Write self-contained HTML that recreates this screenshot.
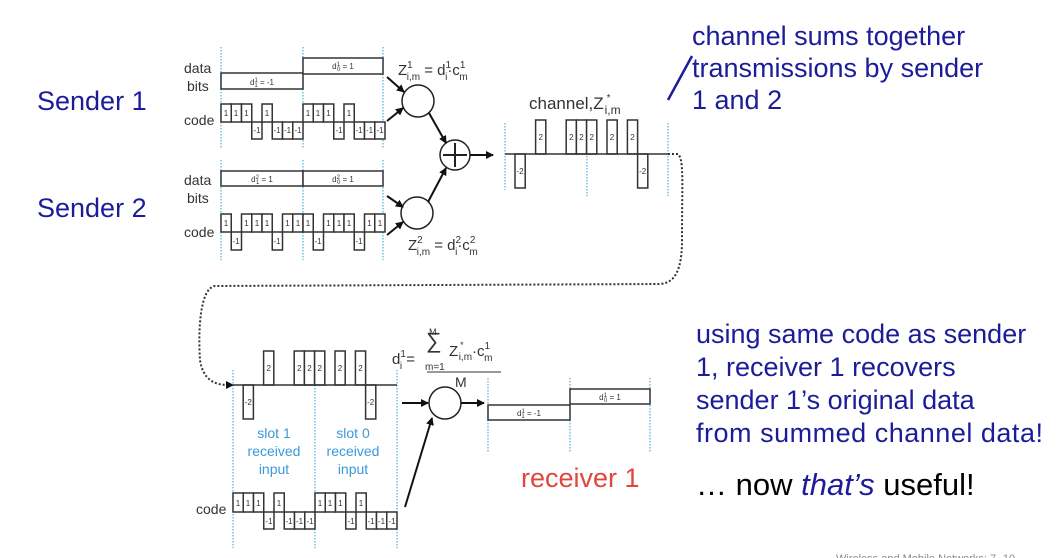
<!DOCTYPE html>
<html><head><meta charset="utf-8"><style>
html,body{margin:0;padding:0;background:#fff;}
svg{display:block;}
.l{font-family:"Liberation Sans",sans-serif;fill:#333;}
.c{font-family:"Liberation Sans",sans-serif;font-size:8px;fill:#333;text-anchor:middle;}
.b{font-family:"Liberation Sans",sans-serif;font-size:27px;fill:#1c1c9a;}
.k{font-family:"Liberation Sans",sans-serif;font-size:31px;fill:#000;}
.r rect{fill:#fff;stroke:#333;stroke-width:1.5;}
.d{stroke:#5ab4e6;stroke-width:1.3;stroke-dasharray:1.5 1.5;}
</style></head><body>
<svg width="1060" height="558" viewBox="0 0 1060 558" xmlns="http://www.w3.org/2000/svg">
<defs><marker id="a" markerWidth="8" markerHeight="8" refX="7" refY="4" orient="auto" markerUnits="userSpaceOnUse"><path d="M0,0 L8,4 L0,8 z" fill="#111"/></marker></defs>

<text class="b" x="37" y="110" font-size="26">Sender 1</text>
<text class="b" x="37" y="217" font-size="26">Sender 2</text>
<text class="b" x="692" y="45">channel sums together</text>
<text class="b" x="692" y="77">transmissions by sender</text>
<text class="b" x="692" y="109">1 and 2</text>
<line x1="668" y1="100" x2="692" y2="56" stroke="#1c1c9a" stroke-width="2.5"/>

<text class="b" x="696" y="343">using same code as sender</text>
<text class="b" x="696" y="376">1, receiver 1 recovers</text>
<text class="b" x="696" y="409">sender 1’s original data</text>
<text class="b" x="696" y="442" textLength="347">from summed channel data!</text>
<text class="k" x="696" y="495">… now <tspan font-style="italic" fill="#1c1c9a">that’s</tspan> useful!</text>
<text x="836" y="562" font-family="Liberation Sans" font-size="11" fill="#888">Wireless and Mobile Networks: 7- 10</text>

<g class="l" font-size="14">
<text x="184" y="73">data</text><text x="187" y="91">bits</text><text x="184" y="125">code</text>
<text x="184" y="185">data</text><text x="187" y="203">bits</text><text x="184" y="237">code</text>
<text x="196" y="514">code</text>
</g>

<g class="d">
<line x1="221" y1="47" x2="221" y2="148"/><line x1="303" y1="47" x2="303" y2="148"/><line x1="383" y1="47" x2="383" y2="148"/>
<line x1="221" y1="160" x2="221" y2="260"/><line x1="303" y1="160" x2="303" y2="260"/><line x1="383" y1="160" x2="383" y2="260"/>
<line x1="505" y1="123" x2="505" y2="190"/><line x1="587" y1="123" x2="587" y2="196"/><line x1="668" y1="123" x2="668" y2="196"/>
<line x1="233" y1="370" x2="233" y2="548"/><line x1="315" y1="370" x2="315" y2="548"/><line x1="397" y1="370" x2="397" y2="548"/>
<line x1="488" y1="378" x2="488" y2="452"/><line x1="570" y1="378" x2="570" y2="452"/><line x1="650" y1="378" x2="650" y2="452"/>
</g>

<g class="r">
<rect x="221" y="73" width="82" height="16"/><rect x="303" y="58" width="80" height="16"/>
<rect x="221" y="171" width="82" height="15"/><rect x="303" y="171" width="80" height="15"/>
<rect x="221" y="104" width="10.25" height="18"/><rect x="231.25" y="104" width="10.25" height="18"/><rect x="241.5" y="104" width="10.25" height="18"/><rect x="251.75" y="122" width="10.25" height="17"/><rect x="262" y="104" width="10.25" height="18"/><rect x="272.25" y="122" width="10.25" height="17"/><rect x="282.5" y="122" width="10.25" height="17"/><rect x="292.75" y="122" width="10.25" height="17"/>
<rect x="303" y="104" width="10.25" height="18"/><rect x="313.25" y="104" width="10.25" height="18"/><rect x="323.5" y="104" width="10.25" height="18"/><rect x="333.75" y="122" width="10.25" height="17"/><rect x="344" y="104" width="10.25" height="18"/><rect x="354.25" y="122" width="10.25" height="17"/><rect x="364.5" y="122" width="10.25" height="17"/><rect x="374.75" y="122" width="10.25" height="17"/>
<rect x="221" y="214" width="10.25" height="18"/><rect x="231.25" y="232" width="10.25" height="18"/><rect x="241.5" y="214" width="10.25" height="18"/><rect x="251.75" y="214" width="10.25" height="18"/><rect x="262" y="214" width="10.25" height="18"/><rect x="272.25" y="232" width="10.25" height="18"/><rect x="282.5" y="214" width="10.25" height="18"/><rect x="292.75" y="214" width="10.25" height="18"/>
<rect x="303" y="214" width="10.25" height="18"/><rect x="313.25" y="232" width="10.25" height="18"/><rect x="323.5" y="214" width="10.25" height="18"/><rect x="333.75" y="214" width="10.25" height="18"/><rect x="344" y="214" width="10.25" height="18"/><rect x="354.25" y="232" width="10.25" height="18"/><rect x="364.5" y="214" width="10.25" height="18"/><rect x="374.75" y="214" width="10.25" height="18"/>
<rect x="515" y="154" width="10.2" height="34"/><rect x="535.6" y="120" width="10.2" height="34"/><rect x="566.2" y="120" width="10.2" height="34"/><rect x="576.4" y="120" width="10.2" height="34"/><rect x="586.6" y="120" width="10.2" height="34"/><rect x="607" y="120" width="10.2" height="34"/><rect x="627.4" y="120" width="10.2" height="34"/><rect x="637.6" y="154" width="10.2" height="34"/>
<rect x="243.2" y="385" width="10.2" height="34"/><rect x="263.6" y="351" width="10.2" height="34"/><rect x="294.2" y="351" width="10.2" height="34"/><rect x="304.4" y="351" width="10.2" height="34"/><rect x="314.6" y="351" width="10.2" height="34"/><rect x="335" y="351" width="10.2" height="34"/><rect x="355.4" y="351" width="10.2" height="34"/><rect x="365.6" y="385" width="10.2" height="34"/>
<rect x="233" y="493" width="10.25" height="19"/><rect x="243.25" y="493" width="10.25" height="19"/><rect x="253.5" y="493" width="10.25" height="19"/><rect x="263.75" y="512" width="10.25" height="17"/><rect x="274" y="493" width="10.25" height="19"/><rect x="284.25" y="512" width="10.25" height="17"/><rect x="294.5" y="512" width="10.25" height="17"/><rect x="304.75" y="512" width="10.25" height="17"/>
<rect x="315" y="493" width="10.25" height="19"/><rect x="325.25" y="493" width="10.25" height="19"/><rect x="335.5" y="493" width="10.25" height="19"/><rect x="345.75" y="512" width="10.25" height="17"/><rect x="356" y="493" width="10.25" height="19"/><rect x="366.25" y="512" width="10.25" height="17"/><rect x="376.5" y="512" width="10.25" height="17"/><rect x="386.75" y="512" width="10.25" height="17"/>
<rect x="488" y="405" width="82" height="15"/><rect x="570" y="389" width="80" height="15"/>
</g>
<line x1="505" y1="154" x2="668" y2="154" stroke="#333" stroke-width="1.5"/>
<line x1="233" y1="385" x2="397" y2="385" stroke="#333" stroke-width="1.5"/>

<g class="c">
<text x="226" y="116">1</text><text x="236" y="116">1</text><text x="246.5" y="116">1</text><text x="257" y="133">-1</text><text x="267" y="116">1</text><text x="277" y="133">-1</text><text x="287.5" y="133">-1</text><text x="298" y="133">-1</text>
<text x="308" y="116">1</text><text x="318" y="116">1</text><text x="328.5" y="116">1</text><text x="339" y="133">-1</text><text x="349" y="116">1</text><text x="359" y="133">-1</text><text x="369.5" y="133">-1</text><text x="380" y="133">-1</text>
<text x="226" y="226">1</text><text x="236" y="244">-1</text><text x="246.5" y="226">1</text><text x="257" y="226">1</text><text x="267" y="226">1</text><text x="277" y="244">-1</text><text x="287.5" y="226">1</text><text x="298" y="226">1</text>
<text x="308" y="226">1</text><text x="318" y="244">-1</text><text x="328.5" y="226">1</text><text x="339" y="226">1</text><text x="349" y="226">1</text><text x="359" y="244">-1</text><text x="369.5" y="226">1</text><text x="380" y="226">1</text>
<text x="238" y="506">1</text><text x="248" y="506">1</text><text x="258.5" y="506">1</text><text x="269" y="524">-1</text><text x="279" y="506">1</text><text x="289" y="524">-1</text><text x="299.5" y="524">-1</text><text x="310" y="524">-1</text>
<text x="320" y="506">1</text><text x="330" y="506">1</text><text x="340.5" y="506">1</text><text x="351" y="524">-1</text><text x="361" y="506">1</text><text x="371" y="524">-1</text><text x="381.5" y="524">-1</text><text x="392" y="524">-1</text>
<text x="520" y="174">-2</text><text x="540.7" y="140">2</text><text x="571.3" y="140">2</text><text x="581.5" y="140">2</text><text x="591.7" y="140">2</text><text x="612" y="140">2</text><text x="632.5" y="140">2</text><text x="642.7" y="174">-2</text>
<text x="248.3" y="405">-2</text><text x="268.7" y="371">2</text><text x="299.3" y="371">2</text><text x="309.5" y="371">2</text><text x="319.7" y="371">2</text><text x="340" y="371">2</text><text x="360.5" y="371">2</text><text x="370.7" y="405">-2</text>
<text x="262" y="85">d<tspan font-size="6" dy="-3">1</tspan><tspan font-size="6" dy="5" dx="-3">1</tspan><tspan dy="-2"> = -1</tspan></text>
<text x="343" y="69">d<tspan font-size="6" dy="-3">1</tspan><tspan font-size="6" dy="5" dx="-3">0</tspan><tspan dy="-2"> = 1</tspan></text>
<text x="262" y="182">d<tspan font-size="6" dy="-3">2</tspan><tspan font-size="6" dy="5" dx="-3">1</tspan><tspan dy="-2"> = 1</tspan></text>
<text x="343" y="182">d<tspan font-size="6" dy="-3">2</tspan><tspan font-size="6" dy="5" dx="-3">0</tspan><tspan dy="-2"> = 1</tspan></text>
<text x="529" y="416">d<tspan font-size="6" dy="-3">1</tspan><tspan font-size="6" dy="5" dx="-3">1</tspan><tspan dy="-2"> = -1</tspan></text>
<text x="610" y="400">d<tspan font-size="6" dy="-3">1</tspan><tspan font-size="6" dy="5" dx="-3">0</tspan><tspan dy="-2"> = 1</tspan></text>
</g>

<g class="l" font-size="15">
<text x="398" y="75">Z<tspan font-size="10" dy="-7">1</tspan><tspan font-size="10" dy="12" dx="-6">i,m</tspan><tspan dy="-5"> = d</tspan><tspan font-size="10" dy="-7">1</tspan><tspan font-size="10" dy="12" dx="-6">i</tspan><tspan dy="-5">·c</tspan><tspan font-size="10" dy="-7">1</tspan><tspan font-size="10" dy="12" dx="-6">m</tspan></text>
<text x="408" y="250">Z<tspan font-size="10" dy="-7">2</tspan><tspan font-size="10" dy="12" dx="-6">i,m</tspan><tspan dy="-5"> = d</tspan><tspan font-size="10" dy="-7">2</tspan><tspan font-size="10" dy="12" dx="-6">i</tspan><tspan dy="-5">·c</tspan><tspan font-size="10" dy="-7">2</tspan><tspan font-size="10" dy="12" dx="-6">m</tspan></text>
<text x="529" y="109" font-size="17">channel,Z<tspan font-size="10" dy="-8" dx="3">*</tspan><tspan font-size="12" dy="13" dx="-6">i,m</tspan></text>
<text x="392" y="364">d<tspan font-size="10" dy="-7">1</tspan><tspan font-size="10" dy="12" dx="-6">i</tspan><tspan dy="-5"> =</tspan></text>
<text x="426" y="348" font-size="22">∑</text>
<text x="429" y="335" font-size="9">M</text>
<text x="425" y="370" font-size="10">m=1</text>
<text x="449" y="356">Z<tspan font-size="9" dy="-8" dx="2">*</tspan><tspan font-size="10" dy="12" dx="-5">i,m</tspan><tspan dy="-4">·c</tspan><tspan font-size="10" dy="-7">1</tspan><tspan font-size="10" dy="12" dx="-6">m</tspan></text>
<line x1="427" y1="372" x2="501" y2="372" stroke="#333" stroke-width="1"/>
<text x="455" y="387" font-size="14">M</text>
</g>
<g font-family="Liberation Sans" font-size="14" fill="#3a9ad9" text-anchor="middle">
<text x="274" y="438">slot 1</text><text x="274" y="456">received</text><text x="274" y="474">input</text>
<text x="353" y="438">slot 0</text><text x="353" y="456">received</text><text x="353" y="474">input</text>
</g>
<text x="521" y="487" font-family="Liberation Sans" font-size="27" fill="#e0473a">receiver 1</text>

<g fill="#fff" stroke="#222" stroke-width="1.5">
<circle cx="418" cy="101" r="16"/><circle cx="417" cy="213" r="16"/><circle cx="455" cy="155" r="15"/><circle cx="445" cy="403" r="16"/>
</g>
<path d="M443,155 H467 M455,143 V167" stroke="#222" stroke-width="2"/>
<g stroke="#111" stroke-width="2" marker-end="url(#a)" fill="none">
<line x1="387" y1="77" x2="404" y2="92"/><line x1="387" y1="121" x2="403" y2="108"/>
<line x1="387" y1="196" x2="403" y2="207"/><line x1="387" y1="235" x2="403" y2="222"/>
<line x1="429" y1="113" x2="446" y2="143"/><line x1="428" y1="202" x2="446" y2="168"/>
<line x1="470" y1="155" x2="493" y2="155"/>
<line x1="402" y1="403" x2="428" y2="403"/><line x1="461" y1="403" x2="484" y2="403"/>
<line x1="405" y1="507" x2="432" y2="418"/>
</g>
<path d="M668,154 H678 C684,160 682,180 682,240 C682,270 675,283 660,284 L215,286 C200,288 198,330 200,360 C203,380 215,385 228,385" fill="none" stroke="#333" stroke-width="2" stroke-dasharray="2 2"/>
<path d="M226,381 L234,385 L226,389 z" fill="#111"/>
</svg>
</body></html>
